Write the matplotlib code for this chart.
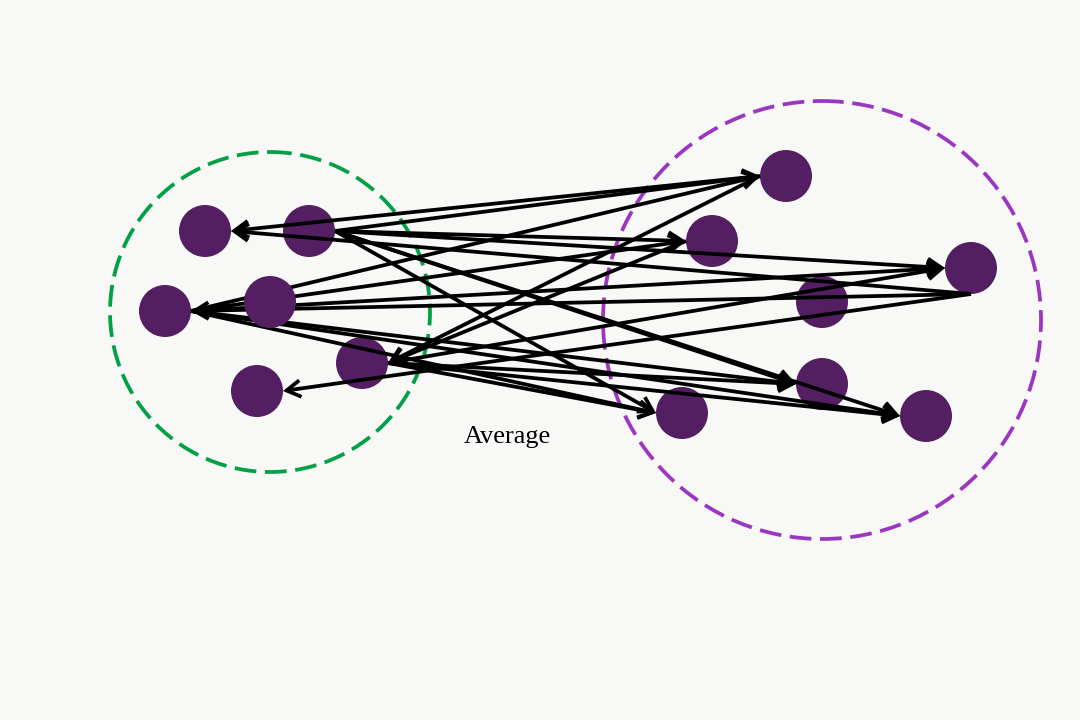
import matplotlib
matplotlib.use("Agg")
import matplotlib.pyplot as plt
from matplotlib.patches import Circle, FancyArrowPatch

# ---------------- data ----------------
node_names = ["A", "B", "C", "D", "E", "F", "G", "H", "I", "J", "K", "L", "M"]
node_x = [205, 309, 165, 270, 362, 257, 786, 712, 971, 822, 822, 682, 926]
node_y = [231, 231, 311, 302, 363, 391, 176, 241, 268, 302, 384, 413, 416]
node_on_top = ["D"]          # node drawn above the connectors

edge_from = ["B", "B", "B", "B", "B", "B",
             "C", "C", "C", "C", "C", "C",
             "E", "E", "E", "E",
             "G", "G", "H", "I", "I", "I"]
edge_to = ["G", "H", "I", "K", "L", "M",
           "G", "H", "I", "K", "L", "M",
           "I", "K", "L", "M",
           "A", "E", "E", "A", "C", "F"]
# connector port on each end: R = right side, L = left side, B = bottom
edge_from_port = ["R"] * 16 + ["L", "L", "L", "B", "B", "B"]
edge_to_port = ["L"] * 16 + ["R", "R", "R", "R", "R", "R"]

cluster_x = [270, 822]
cluster_y = [312, 320]
cluster_r = [160, 219]
cluster_colors = ["#00a145", "#9a36c0"]

label_text = "Average"
label_x, label_y = 507, 437

# ---------------- style ----------------
node_radius = 26
node_color = "#531f62"
bg = "#f8f8f6"

fig = plt.figure(figsize=(10.8, 7.2), dpi=100, facecolor=bg)
ax = fig.add_axes([0, 0, 1, 1])
ax.set_facecolor(bg)
ax.set_xlim(0, 1080)
ax.set_ylim(720, 0)
ax.axis("off")

pos = {n: (x, y) for n, x, y in zip(node_names, node_x, node_y)}
port_dir = {"R": (1, 0), "L": (-1, 0), "B": (0, 1)}


def port(name, side):
    x, y = pos[name]
    dx, dy = port_dir[side]
    return (x + dx * node_radius, y + dy * node_radius)


# cluster outlines
for cx, cy, r, c in zip(cluster_x, cluster_y, cluster_r, cluster_colors):
    ax.add_patch(Circle((cx, cy), r, fill=False, edgecolor=c, lw=2.7,
                        linestyle=(0, (5.8, 2.3)), zorder=1))

# nodes
for n in node_names:
    z = 5 if n in node_on_top else 2
    ax.add_patch(Circle(pos[n], node_radius, facecolor=node_color,
                        edgecolor="none", zorder=z))

# connectors
for s, t, sp, tp in zip(edge_from, edge_to, edge_from_port, edge_to_port):
    a = FancyArrowPatch(port(s, sp), port(t, tp),
                        arrowstyle="->,head_length=1.0,head_width=0.6",
                        mutation_scale=10, lw=2.7, color="black",
                        shrinkA=0, shrinkB=0, zorder=3,
                        joinstyle="miter", capstyle="butt")
    ax.add_patch(a)

ax.text(label_x, label_y, label_text, ha="center", va="center",
        fontsize=19, family=["Liberation Serif", "DejaVu Serif"], color="black",
        zorder=6)

fig.savefig("out.png", dpi=100, facecolor=bg)
